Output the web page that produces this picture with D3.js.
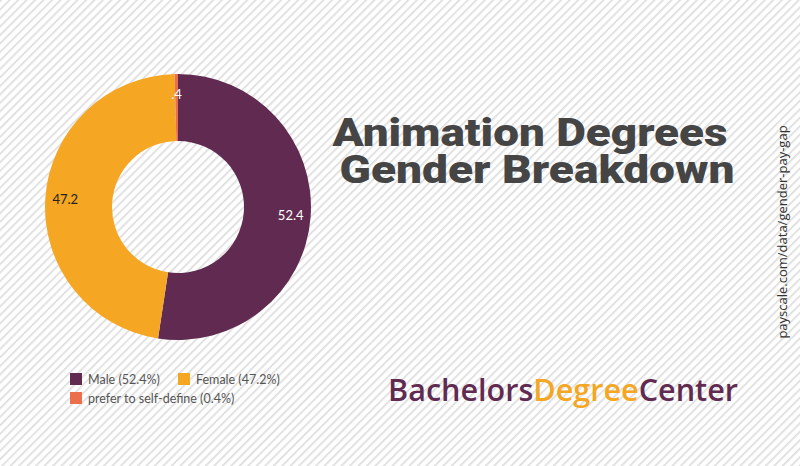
<!DOCTYPE html>
<html><head><meta charset="utf-8">
<script src="https://cdn.jsdelivr.net/npm/d3@7"></script>
<style>body{margin:0;overflow:hidden;background:#fff}</style>
</head><body>
<svg id="c" width="800" height="466"></svg>
<script>
const categories = ["Male", "Female", "prefer to self-define"];
const values = [52.4, 47.2, 0.4];
const labels = ["52.4", "47.2", ".4"];
const legendLabels = ["Male (52.4%)", "Female (47.2%)", "prefer to self-define (0.4%)"];
const colors = ["#612B51", "#F5A623", "#EB6F4C"];
const titleLines = ["Animation Degrees", "Gender Breakdown"];
const source = "payscale.com/data/gender-pay-gap";

const svg = d3.select("#c");
const defs = svg.append("defs");
const pat = defs.append("pattern").attr("id","stripes").attr("patternUnits","userSpaceOnUse")
  .attr("width",6).attr("height",6).attr("patternTransform","rotate(45)");
pat.append("rect").attr("width",6).attr("height",6).attr("fill","#fff");
pat.append("rect").attr("width",1.6).attr("height",6).attr("fill","#dcdcdc");
svg.append("rect").attr("width",800).attr("height",466).attr("fill","url(#stripes)");

const cx = 178, cy = 207, R = 133, r = 66;
const pie = d3.pie().sort(null).value(d => d)(values);
const arc = d3.arc().outerRadius(R).innerRadius(r);
const labelArc = d3.arc().outerRadius(113).innerRadius(113);
const g = svg.append("g").attr("transform",`translate(${cx},${cy})`);
g.selectAll("path").data(pie).join("path").attr("d",arc).attr("fill",(d,i)=>colors[i]);
g.selectAll("text").data(pie).join("text")
  .attr("transform",d=>`translate(${labelArc.centroid(d)})`)
  .attr("text-anchor","middle").attr("dy","0.35em")
  .attr("font-family","Lato").attr("font-size",13)
  .attr("fill",(d,i)=> i===1 ? "#222" : "#fff")
  .text((d,i)=>labels[i]);

const legendPos = [[70,373],[178,373],[70,392]];
const lg = svg.append("g");
legendLabels.forEach((t,i)=>{
  lg.append("rect").attr("x",legendPos[i][0]).attr("y",legendPos[i][1]).attr("width",12).attr("height",12).attr("fill",colors[i]);
  lg.append("text").attr("x",legendPos[i][0]+18).attr("y",legendPos[i][1]+11)
    .attr("font-family","Lato").attr("font-size",12.5).attr("fill","#555").text(t);
});

svg.selectAll("text.title").data(titleLines).join("text").attr("class","title")
  .attr("x",(d,i)=> i===0 ? 530 : 537).attr("y",(d,i)=>146+i*37)
  .attr("text-anchor","middle")
  .attr("font-family","Roboto").attr("font-weight",900).attr("font-size",38)
  .attr("fill","#454545").attr("textLength",(d,i)=> i===0 ? 395 : 395).attr("lengthAdjust","spacingAndGlyphs")
  .text(d=>d);

const logo = svg.append("text").attr("x",388).attr("y",401)
  .attr("font-family","Open Sans").attr("font-weight",600).attr("font-size",31)
  .attr("textLength",350).attr("lengthAdjust","spacingAndGlyphs");
logo.append("tspan").attr("fill","#612B51").text("Bachelors");
logo.append("tspan").attr("fill","#F5A623").text("Degree");
logo.append("tspan").attr("fill","#612B51").text("Center");

svg.append("text").attr("transform","translate(787,232) rotate(-90)")
  .attr("text-anchor","middle").attr("font-family","Open Sans").attr("font-size",13)
  .attr("fill","#333").text(source);
</script>
</body></html>
